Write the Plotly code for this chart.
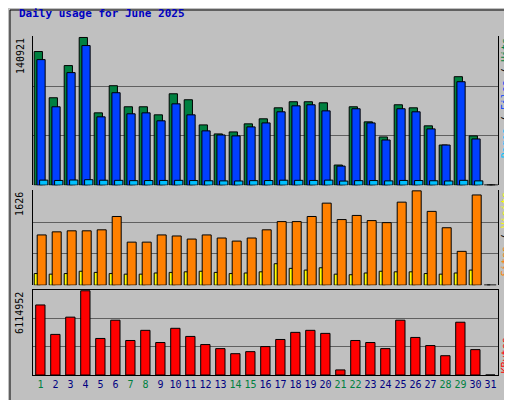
import plotly.graph_objects as go

days = list(range(1, 32))
weekends = [1, 7, 8, 14, 15, 21, 22, 28, 29]

hits = [127500, 83400, 114100, 140921, 69000, 94900, 74800, 74800, 67100, 87200,
        81500, 57500, 48900, 50800, 58500, 63300, 73800, 79600, 79600, 78600,
        19200, 74800, 60400, 46000, 76700, 73800, 56600, 38300, 103500, 47000, 0]
files = [119800, 74800, 107400, 133200, 65200, 88200, 68100, 69000, 61400, 77600,
         67100, 51800, 47900, 47000, 55600, 59400, 70000, 75700, 76700, 70900,
         18200, 72900, 59400, 43100, 72900, 70000, 53700, 38300, 98700, 44100, 0]
pages = [4800, 4500, 4900, 5200, 4700, 4600, 4300, 4400, 4500, 4600,
         4400, 4200, 4100, 4000, 4300, 4400, 4700, 4600, 4500, 4800,
         3900, 4300, 4400, 4100, 4500, 4400, 4200, 4000, 4600, 4100, 0]
visits = [866, 919, 937, 937, 954, 1184, 742, 742, 866, 848,
          795, 866, 813, 760, 813, 954, 1096, 1096, 1184, 1414,
          1131, 1202, 1113, 1078, 1431, 1626, 1272, 990, 583, 1555, 0]
sites = [200, 190, 200, 240, 220, 200, 190, 190, 210, 220,
         230, 240, 220, 200, 210, 230, 370, 290, 260, 300,
         190, 180, 210, 240, 230, 230, 200, 190, 210, 260, 0]
kbytes = [5083500, 2947000, 4199400, 6114952, 2652300, 3978400, 2504900, 3241700, 2357600, 3389000,
          2799600, 2210200, 1915500, 1547200, 1694500, 2062900, 2578600, 3094300, 3241700, 3020600,
          368400, 2504900, 2357600, 1915500, 3978400, 2725900, 2136500, 1399800, 3831000, 1841800, 0]

GREEN = "#008040"
BLUE = "#0040FF"
CYAN = "#00C0FF"
ORANGE = "#FF8000"
YELLOW = "#FFFF00"
RED = "#FF0000"
BG = "#C0C0C0"

fig = go.Figure()
line = dict(color="black", width=1)
fig.add_trace(go.Bar(x=days, y=hits, marker=dict(color=GREEN, line=line), offset=-0.42, width=0.55, yaxis="y3"))
fig.add_trace(go.Bar(x=days, y=files, marker=dict(color=BLUE, line=line), offset=-0.24, width=0.55, yaxis="y3"))
fig.add_trace(go.Bar(x=days, y=pages, marker=dict(color=CYAN, line=line), offset=-0.06, width=0.55, yaxis="y3"))
fig.add_trace(go.Bar(x=days, y=sites, marker=dict(color=YELLOW, line=line), offset=-0.42, width=0.4, yaxis="y2"))
fig.add_trace(go.Bar(x=days, y=visits, marker=dict(color=ORANGE, line=line), offset=-0.22, width=0.6, yaxis="y2"))
fig.add_trace(go.Bar(x=days, y=kbytes, marker=dict(color=RED, line=line), offset=-0.32, width=0.62, yaxis="y"))

ticktext = ["<span style='color:%s'>%d</span>" % (GREEN if d in weekends else "#000080", d) for d in days]


def yax(dom, mx):
    return dict(domain=dom, range=[0, mx * 1.01], tickvals=[mx / 3, 2 * mx / 3], showticklabels=False,
                showgrid=True, gridcolor="#606060", gridwidth=1, zeroline=False, automargin=False,
                showline=True, linecolor="black", mirror=True, ticks="", fixedrange=True)


fig.update_layout(
    width=512, height=400, barmode="overlay", showlegend=False,
    paper_bgcolor=BG, plot_bgcolor=BG,
    margin=dict(l=25, r=22, t=28, b=33, autoexpand=False),
    font=dict(family="DejaVu Sans Mono", size=10, color="black"),
    xaxis=dict(range=[0.5, 31.5], tickvals=days, ticktext=ticktext, tickangle=0, automargin=False,
               showline=True, linecolor="black", mirror=True, ticks="", showgrid=False,
               tickfont=dict(size=10), fixedrange=True),
    yaxis=yax([0, 0.251], max(kbytes)),
    yaxis2=yax([0.265, 0.546], max(visits)),
    yaxis3=yax([0.56, 1.0], max(hits)),
)

annos = [
    dict(x=-0.035, y=1 + 22 / 339, xref="paper", yref="paper", text="<b>Daily usage for June 2025</b>",
         showarrow=False, xanchor="left", yanchor="middle", font=dict(color="#0000C0", size=11)),
    dict(x=-0.028, y=1.0, xref="paper", yref="paper", text=str(max(hits)), textangle=-90,
         showarrow=False, xanchor="center", yanchor="top"),
    dict(x=-0.028, y=0.546, xref="paper", yref="paper", text=str(max(visits)), textangle=-90,
         showarrow=False, xanchor="center", yanchor="top"),
    dict(x=-0.028, y=0.251, xref="paper", yref="paper", text=str(max(kbytes)), textangle=-90,
         showarrow=False, xanchor="center", yanchor="top"),
    dict(x=1.016, y=1.0, xref="paper", yref="paper", textangle=-90, showarrow=False,
         xanchor="center", yanchor="top",
         text="<span style='color:%s'>Pages</span><span style='color:black'> / </span>"
              "<span style='color:%s'>Files</span><span style='color:black'> / </span>"
              "<span style='color:%s'>Hits</span>" % (CYAN, BLUE, GREEN)),
    dict(x=1.016, y=0.546, xref="paper", yref="paper", textangle=-90, showarrow=False,
         xanchor="center", yanchor="top",
         text="<span style='color:%s'>Sites</span><span style='color:black'> / </span>"
              "<span style='color:%s'>Visits</span>" % (ORANGE, YELLOW)),
    dict(x=1.016, y=0.0, xref="paper", yref="paper", textangle=-90, showarrow=False,
         xanchor="center", yanchor="bottom", text="<span style='color:%s'>KBytes</span>" % RED),
]
fig.update_layout(annotations=annos)

# outer frame
fig.add_shape(type="rect", xref="paper", yref="paper", x0=-23 / 465, x1=1 + 15 / 465,
              y0=-31 / 339, y1=1 + 26 / 339, line=dict(color="black", width=1))

fig.write_html("out.html")
